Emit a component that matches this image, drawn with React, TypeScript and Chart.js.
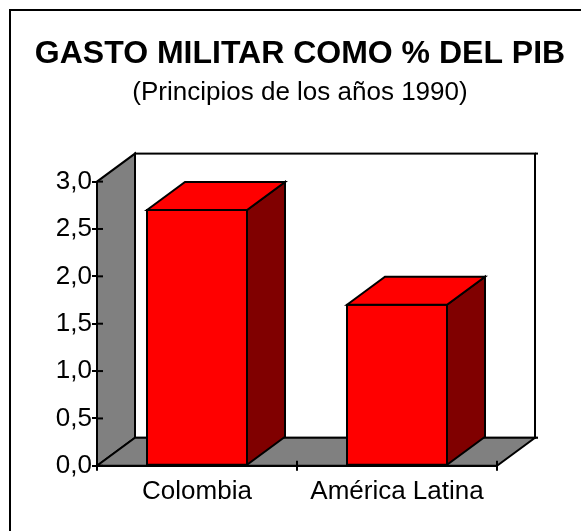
import React, { useEffect, useRef } from "react";
import { Chart, registerables } from "chart.js";

Chart.register(...registerables);

const categories = ["Colombia", "América Latina"];
const gasto = [2.7, 1.7];
const titleText = "GASTO MILITAR COMO % DEL PIB";
const subtitleText = "(Principios de los años 1990)";

const DX = 38;
const DY = 28;
const FONT = "'Liberation Sans', Arial, sans-serif";

const poly = (ctx: CanvasRenderingContext2D, pts: number[][], fill: string) => {
  ctx.beginPath();
  pts.forEach(([x, y], i) => (i ? ctx.lineTo(x, y) : ctx.moveTo(x, y)));
  ctx.closePath();
  ctx.fillStyle = fill;
  ctx.fill();
  ctx.stroke();
};

const line = (ctx: CanvasRenderingContext2D, x1: number, y1: number, x2: number, y2: number) => {
  ctx.beginPath();
  ctx.moveTo(x1, y1);
  ctx.lineTo(x2, y2);
  ctx.stroke();
};

const box3d = {
  id: "box3d",
  beforeDraw(chart: any) {
    const { ctx, chartArea: a } = chart;
    ctx.save();
    ctx.strokeStyle = "#000";
    ctx.lineWidth = 2;
    ctx.lineJoin = "miter";
    // page frame
    ctx.beginPath();
    ctx.moveTo(10, chart.height);
    ctx.lineTo(10, 10);
    ctx.lineTo(chart.width, 10);
    ctx.stroke();
    // back wall
    ctx.fillStyle = "#fff";
    ctx.fillRect(a.left + DX, a.top - DY, a.width, a.height);
    ctx.strokeRect(a.left + DX, a.top - DY, a.width, a.height);
    line(ctx, a.right + DX, a.top - DY, a.right + DX + 3, a.top - DY);
    line(ctx, a.right + DX, a.bottom - DY, a.right + DX + 3, a.bottom - DY);
    // left wall and floor
    poly(ctx, [[a.left, a.bottom], [a.left + DX, a.bottom - DY], [a.left + DX, a.top - DY], [a.left, a.top]], "#808080");
    poly(ctx, [[a.left, a.bottom], [a.left + DX, a.bottom - DY], [a.right + DX, a.bottom - DY], [a.right, a.bottom]], "#808080");
    ctx.restore();
  },
  afterDatasetsDraw(chart: any) {
    const { ctx, chartArea: a } = chart;
    const y = chart.scales.y;
    ctx.save();
    ctx.strokeStyle = "#000";
    ctx.lineWidth = 2;
    // inner half of the crossing tick marks
    y.ticks.forEach((_: any, i: number) => {
      const p = y.getPixelForTick(i);
      line(ctx, a.left, p, a.left + 6, p);
    });
    [a.left, (a.left + a.right) / 2, a.right].forEach((p: number) => line(ctx, p, a.bottom, p, a.bottom - 5));
    // bar tops and sides
    chart.getDatasetMeta(0).data.forEach((bar: any) => {
      const l = bar.x - bar.width / 2;
      const r = bar.x + bar.width / 2;
      const t = bar.y;
      const b = bar.base;
      poly(ctx, [[r, t], [r + DX, t - DY], [r + DX, b - DY], [r, b]], "#800000");
      poly(ctx, [[l, t], [l + DX, t - DY], [r + DX, t - DY], [r, t]], "#ff0000");
    });
    ctx.restore();
  },
};

export default function App() {
  const ref = useRef<HTMLCanvasElement>(null);
  useEffect(() => {
    const chart = new Chart(ref.current!, {
      type: "bar",
      data: {
        labels: categories,
        datasets: [
          {
            data: gasto,
            backgroundColor: "#ff0000",
            borderColor: "#000",
            borderWidth: 2,
            borderSkipped: false,
            inflateAmount: 1,
            barPercentage: 1,
            categoryPercentage: 0.5,
          },
        ],
      },
      options: {
        responsive: false,
        animation: false,
        layout: { padding: { left: 19, right: 0, top: 35, bottom: 19 } },
        plugins: {
          legend: { display: false },
          tooltip: { enabled: false },
          title: {
            display: true,
            text: titleText,
            color: "#000",
            font: { family: FONT, size: 32, weight: "bold" },
            padding: { top: 0, bottom: 4 },
          },
          subtitle: {
            display: true,
            text: subtitleText,
            color: "#000",
            font: { family: FONT, size: 26, weight: "normal" },
            padding: { top: 0, bottom: 73 },
          },
        },
        scales: {
          x: {
            grid: { offset: true, drawOnChartArea: false, color: "#000", lineWidth: 2, tickLength: 5 },
            border: { display: true, color: "#000", width: 2 },
            ticks: { color: "#000", font: { family: FONT, size: 26 }, padding: 5, maxRotation: 0, autoSkip: false },
          },
          y: {
            min: 0,
            max: 3,
            afterFit: (s: any) => { s.width = 78; },
            grid: { drawOnChartArea: false, color: "#000", lineWidth: 2, tickLength: 5 },
            border: { display: true, color: "#000", width: 2 },
            ticks: {
              stepSize: 0.5,
              color: "#000",
              font: { family: FONT, size: 26 },
              padding: 0,
              callback: (v: any) => Number(v).toFixed(1).replace(".", ","),
            },
          },
          rightGap: {
            position: "right",
            display: true,
            afterFit: (s: any) => { s.width = 84; },
            grid: { display: false },
            border: { display: false },
            ticks: { display: false },
          },
        },
      } as any,
      plugins: [box3d],
    });
    return () => chart.destroy();
  }, []);
  return (
    <div style={{ position: "absolute", left: 0, top: 0, width: 581, height: 531 }}>
      <canvas ref={ref} width={581} height={531} style={{ display: "block", width: 581, height: 531 }} />
    </div>
  );
}
